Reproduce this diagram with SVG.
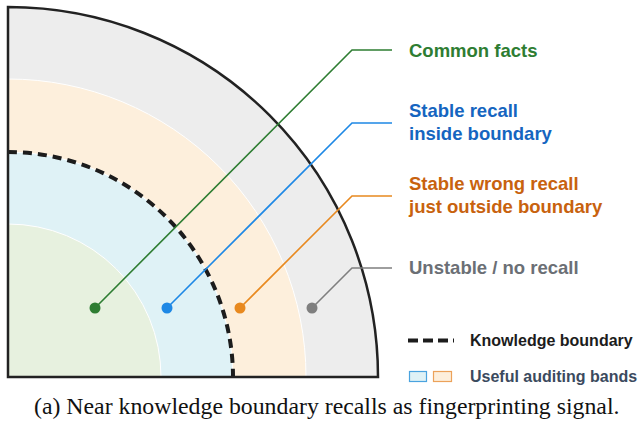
<svg xmlns="http://www.w3.org/2000/svg" width="639" height="423" viewBox="0 0 639 423">
  <style>
    .band { stroke: #ffffff; stroke-width: 1; }
    .lead { fill: none; stroke-width: 1.6; }
    .lbl { font-family: "Liberation Sans", Arial, sans-serif; font-weight: bold; font-size: 18.5px; }
    .leg { font-family: "Liberation Sans", Arial, sans-serif; font-weight: bold; font-size: 16px; }
    .cap { font-family: "Liberation Serif", "Times New Roman", serif; font-size: 23.8px; fill: #111; }
  </style>

  <rect width="639" height="423" fill="#ffffff"/>

  <!-- concentric quarter bands, centre at (8,377) -->
  <g id="bands">
    <path id="band-unstable" class="band" fill="#ededed" d="M8 7 A370 370 0 0 1 378 377 L8 377 Z"/>
    <path id="band-wrong" class="band" fill="#fdefdc" d="M8 79 A298 298 0 0 1 306 377 L8 377 Z"/>
    <path id="band-stable" class="band" fill="#dff2f6" d="M8 152 A225 225 0 0 1 233 377 L8 377 Z"/>
    <path id="band-common" class="band" fill="#e7f1df" d="M8 224 A153 153 0 0 1 161 377 L8 377 Z"/>
  </g>

  <!-- knowledge boundary -->
  <path id="boundary" d="M8 152 A225 225 0 0 1 233 377" fill="none" stroke="#1c1c1c" stroke-width="4" stroke-dasharray="9 6"/>

  <!-- outer frame -->
  <path id="frame" d="M8 7 A370 370 0 0 1 378 377 L8 377 Z" fill="none" stroke="#222222" stroke-width="2.5" stroke-linejoin="miter"/>

  <!-- leader lines -->
  <g id="connectors">
    <polyline class="lead" stroke="#2e7d32" points="95,308 352,50 392,50"/>
    <polyline class="lead" stroke="#1e88e5" points="167,308 352,123 392,123"/>
    <polyline class="lead" stroke="#e8891f" points="240,308 352,196 392,196"/>
    <polyline class="lead" stroke="#7f7f7f" points="312,308 352,268 392,268"/>
  </g>

  <g id="node-common">
    <circle cx="95" cy="308" r="5.5" fill="#2e7d32"/>
    <text class="lbl" x="409" y="57" fill="#2e7d32">Common facts</text>
  </g>
  <g id="node-stable">
    <circle cx="167" cy="308" r="5.5" fill="#1e88e5"/>
    <text class="lbl" x="409" y="117" fill="#1565c0">Stable recall</text>
    <text class="lbl" x="409" y="139.5" fill="#1565c0">inside boundary</text>
  </g>
  <g id="node-wrong">
    <circle cx="240" cy="308" r="5.5" fill="#e8891f"/>
    <text class="lbl" x="409" y="189.5" fill="#c8620e">Stable wrong recall</text>
    <text class="lbl" x="409" y="212.5" fill="#c8620e">just outside boundary</text>
  </g>
  <g id="node-unstable">
    <circle cx="312" cy="308" r="5.5" fill="#7f7f7f"/>
    <text class="lbl" x="409" y="274" fill="#6b6f75">Unstable / no recall</text>
  </g>

  <!-- legend -->
  <g id="legend">
    <line x1="408" y1="340.5" x2="454" y2="340.5" stroke="#1c1c1c" stroke-width="4" stroke-dasharray="10 5"/>
    <text class="leg" x="470" y="346" fill="#1c1c1c">Knowledge boundary</text>
    <rect x="409.5" y="371.5" width="17" height="10" fill="#dff2f6" stroke="#4aa3df" stroke-width="1.2"/>
    <rect x="433.5" y="371.5" width="18" height="10" fill="#fdefdc" stroke="#eca25a" stroke-width="1.2"/>
    <text class="leg" x="470" y="381.5" fill="#3b4a5e">Useful auditing bands</text>
  </g>

  <text class="cap" x="34" y="414">(a) Near knowledge boundary recalls as fingerprinting signal.</text>
</svg>
